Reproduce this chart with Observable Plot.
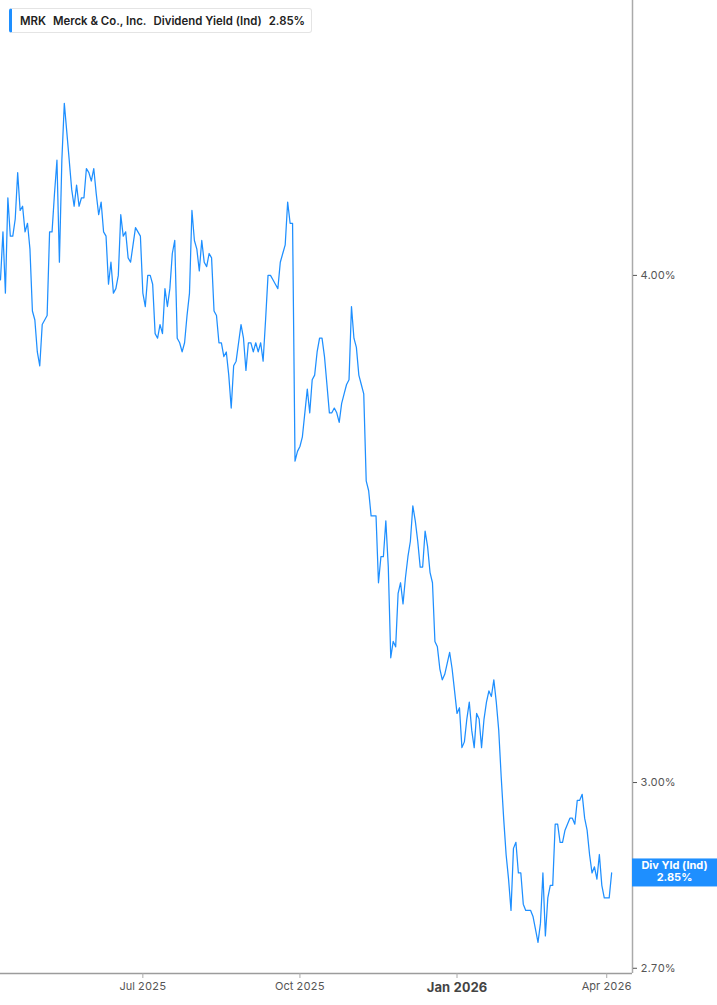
<!DOCTYPE html>
<html>
<head>
<meta charset="utf-8">
<script src="https://cdn.jsdelivr.net/npm/d3@7"></script>
<script src="https://cdn.jsdelivr.net/npm/@observablehq/plot@0.6"></script>
<style>
  body { margin: 0; background: #fff; font-family: Inter, "Noto Sans", sans-serif; }
  #wrap { position: relative; width: 717px; height: 1005px; overflow: hidden; }
  #legend {
    position: absolute; left: 9px; top: 8px; height: 23px; padding: 0 6px 0 8px;
    border: 1px solid #e4e4e4; border-left: 3px solid #1e8fff; border-radius: 3px;
    background: #fff; display: flex; align-items: center;
    font-size: 11.4px; font-weight: 600; color: #222; white-space: nowrap;
  }
  #legend span { margin-right: 7px; }
  #legend span:last-child { margin-right: 0; }
</style>
</head>
<body>
<div id="wrap">
  <div id="chart"></div>
  <div id="legend"></div>
</div>
<script>
const ticker = "MRK";
const company = "Merck & Co., Inc.";
const metric = "Dividend Yield (Ind)";
const seriesShort = "Div Yld (Ind)";
const startDate = "2025-04-07";
const holidays = ["2025-04-18","2025-05-26","2025-06-19","2025-07-04","2025-09-01","2025-11-27","2025-12-25","2026-01-01","2026-01-19","2026-02-16","2026-04-03"];
const yieldValues = [
  3.99,4.10,3.96,4.18,4.09,4.09,4.13,4.24,4.15,4.16,
  4.10,4.12,4.06,3.92,3.90,3.83,3.80,3.89,3.90,3.91,
  4.10,4.10,4.19,4.27,4.03,4.27,4.41,4.34,4.27,4.20,
  4.16,4.21,4.16,4.18,4.18,4.25,4.24,4.22,4.25,4.19,
  4.14,4.17,4.10,4.09,3.98,4.03,3.96,3.97,4.00,4.14,
  4.09,4.10,4.04,4.03,4.07,4.11,4.10,4.09,3.96,3.93,
  4.00,4.00,3.98,3.87,3.86,3.89,3.87,3.97,3.93,3.97,
  4.05,4.08,3.86,3.85,3.83,3.85,3.91,3.96,4.15,4.08,
  4.06,4.01,4.08,4.03,4.02,4.05,4.04,3.92,3.91,3.85,
  3.85,3.82,3.83,3.78,3.71,3.80,3.81,3.85,3.89,3.86,
  3.79,3.85,3.85,3.83,3.85,3.83,3.85,3.81,3.90,4.00,
  4.00,3.99,3.98,3.97,4.03,4.05,4.07,4.17,4.12,4.12,
  3.60,3.62,3.63,3.65,3.70,3.75,3.70,3.77,3.78,3.83,
  3.86,3.86,3.82,3.76,3.70,3.70,3.71,3.70,3.68,3.72,
  3.74,3.76,3.77,3.93,3.86,3.84,3.78,3.76,3.74,3.56,
  3.54,3.49,3.49,3.49,3.36,3.41,3.41,3.48,3.39,3.22,
  3.25,3.24,3.34,3.36,3.32,3.37,3.41,3.44,3.51,3.48,
  3.44,3.39,3.39,3.46,3.43,3.38,3.36,3.25,3.24,3.20,
  3.18,3.19,3.21,3.23,3.20,3.16,3.12,3.13,3.06,3.07,
  3.11,3.14,3.09,3.06,3.12,3.11,3.06,3.11,3.14,3.16,
  3.15,3.18,3.14,3.09,3.01,2.94,2.88,2.84,2.79,2.89,
  2.90,2.85,2.85,2.80,2.79,2.79,2.79,2.78,2.76,2.74,
  2.77,2.85,2.75,2.81,2.83,2.83,2.93,2.93,2.90,2.90,
  2.92,2.93,2.94,2.94,2.93,2.97,2.97,2.98,2.94,2.92,
  2.88,2.85,2.86,2.84,2.88,2.83,2.81,2.81,2.81,2.85
];
const yTicks = [2.70, 3.00, 4.00];
const xTickDates = ["2025-07-01","2025-10-01","2026-01-02","2026-04-01"];
const xTickLabels = ["Jul 2025","Oct 2025","Jan 2026","Apr 2026"];
const boldTickLabel = "Jan 2026";

// trading-day calendar (weekdays minus market holidays)
const holidaySet = new Set(holidays);
const dates = [];
{
  let d = new Date(startDate + "T00:00:00Z");
  while (dates.length < yieldValues.length) {
    const iso = d.toISOString().slice(0, 10);
    const wd = d.getUTCDay();
    if (wd !== 0 && wd !== 6 && !holidaySet.has(iso)) dates.push(iso);
    d = new Date(d.getTime() + 86400000);
  }
}
const data = yieldValues.map((v, i) => ({i, date: dates[i], value: v}));
const last = data[data.length - 1];

// tick positions: first trading day on/after each tick date
const tickIdx = xTickDates.map(t => {
  const k = dates.findIndex(d => d >= t);
  return k < 0 ? dates.length : k;
});
const labelOf = new Map(tickIdx.map((k, j) => [k, xTickLabels[j]]));

const xMax = 257.5;
const yMin = 2.692, yMax = 4.675;

const chart = Plot.plot({
  width: 717,
  height: 1005,
  marginTop: 0,
  marginBottom: 32,
  marginLeft: 0,
  marginRight: 85,
  style: { fontFamily: "Inter, 'Noto Sans', sans-serif", fontSize: "11px", color: "#555", background: "#fff", overflow: "visible" },
  x: { domain: [0, xMax], axis: null },
  y: { type: "log", domain: [yMin, yMax], axis: null },
  marks: [
    Plot.ruleY([yMin], { stroke: "#9c9c9c", strokeWidth: 1.5 }),
    Plot.ruleX([xMax], { stroke: "#aaaaaa", strokeWidth: 1.5 }),
    Plot.axisX(tickIdx, { anchor: "bottom", label: null, tickSize: 5, tickPadding: 4, stroke: "#aaa", fill: "#555", tickFormat: d => labelOf.get(d), fontSize: 11 }),
    Plot.axisY(yTicks, { anchor: "right", label: null, tickSize: 4, tickPadding: 4, stroke: "#555", fill: "#555", tickFormat: d => d.toFixed(2) + "%", fontSize: 11 }),
    Plot.lineY(data, { x: "i", y: "value", stroke: "#1e8fff", strokeWidth: 1.25 })
  ]
});
document.getElementById("chart").appendChild(chart);

// emphasise the year-start label
d3.select(chart).selectAll("text").filter(function() { return this.textContent === boldTickLabel; })
  .attr("font-weight", "bold").attr("font-size", 13).attr("fill", "#444");

// last-value tag on the right axis
const yLast = chart.scale("y").apply(last.value);
const xEdge = chart.scale("x").apply(xMax);
const svg = d3.select(chart);
const tag = svg.append("g");
tag.append("rect").attr("x", xEdge).attr("y", yLast - 14).attr("width", 717 - xEdge).attr("height", 28).attr("fill", "#1e8fff");
tag.append("text").attr("x", xEdge + 42.5).attr("y", yLast - 3).attr("text-anchor", "middle")
  .attr("fill", "#fff").attr("font-weight", "bold").attr("font-size", 11).text(seriesShort);
tag.append("text").attr("x", xEdge + 42.5).attr("y", yLast + 9).attr("text-anchor", "middle")
  .attr("fill", "#fff").attr("font-weight", "bold").attr("font-size", 11).text(last.value.toFixed(2) + "%");

// legend
const legend = document.getElementById("legend");
[ticker, company, metric, last.value.toFixed(2) + "%"].forEach(t => {
  const s = document.createElement("span"); s.textContent = t; legend.appendChild(s);
});
</script>
</body>
</html>
